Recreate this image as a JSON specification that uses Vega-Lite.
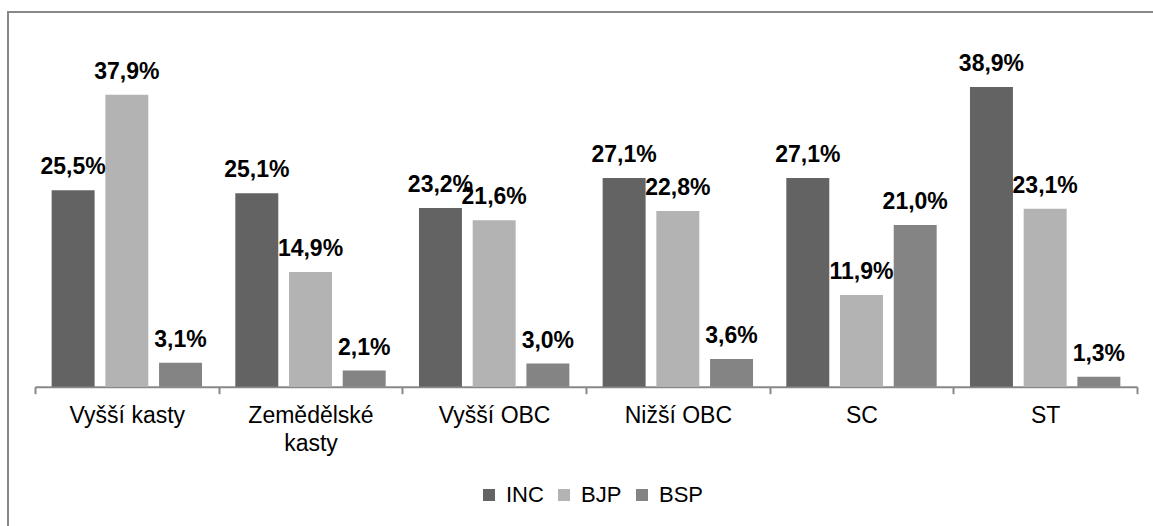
{
  "$schema": "https://vega.github.io/schema/vega-lite/v6.json",
  "width": 1150,
  "height": 520,
  "autosize": {"type": "none"},
  "padding": {"left": 8, "top": 12, "right": 0, "bottom": 0},
  "background": "white",
  "config": {
    "font": "Liberation Sans",
    "view": {"stroke": "#888888", "strokeWidth": 2}
  },
  "data": {
    "values": [
      {"category": "Vyšší kasty", "party": "INC", "value": 25.5},
      {"category": "Vyšší kasty", "party": "BJP", "value": 37.9},
      {"category": "Vyšší kasty", "party": "BSP", "value": 3.1},
      {"category": "Zemědělské kasty", "party": "INC", "value": 25.1},
      {"category": "Zemědělské kasty", "party": "BJP", "value": 14.9},
      {"category": "Zemědělské kasty", "party": "BSP", "value": 2.1},
      {"category": "Vyšší OBC", "party": "INC", "value": 23.2},
      {"category": "Vyšší OBC", "party": "BJP", "value": 21.6},
      {"category": "Vyšší OBC", "party": "BSP", "value": 3.0},
      {"category": "Nižší OBC", "party": "INC", "value": 27.1},
      {"category": "Nižší OBC", "party": "BJP", "value": 22.8},
      {"category": "Nižší OBC", "party": "BSP", "value": 3.6},
      {"category": "SC", "party": "INC", "value": 27.1},
      {"category": "SC", "party": "BJP", "value": 11.9},
      {"category": "SC", "party": "BSP", "value": 21.0},
      {"category": "ST", "party": "INC", "value": 38.9},
      {"category": "ST", "party": "BJP", "value": 23.1},
      {"category": "ST", "party": "BSP", "value": 1.3}
    ]
  },
  "transform": [
    {"calculate": "replace(format(datum.value, '.1f'), '.', ',') + '%'", "as": "label"}
  ],
  "encoding": {
    "x": {
      "field": "category",
      "type": "nominal",
      "sort": null,
      "scale": {"range": [27, 1129], "paddingInner": 0, "paddingOuter": 0},
      "axis": {
        "title": null,
        "orient": "bottom",
        "offset": -145.3,
        "labelAngle": 0,
        "labelFontSize": 23,
        "labelColor": "#000000",
        "labelPadding": 11,
        "labelLimit": 300,
        "labelLineHeight": 28,
        "labelExpr": "datum.value == 'Zemědělské kasty' ? ['Zemědělské', 'kasty'] : datum.label",
        "domainColor": "#888888",
        "domainWidth": 2,
        "tickColor": "#888888",
        "tickWidth": 2,
        "tickSize": 7,
        "tickBand": "extent",
        "grid": false
      }
    },
    "xOffset": {
      "field": "party",
      "type": "nominal",
      "scale": {"domain": ["INC", "BJP", "BSP"], "paddingInner": 0.2, "paddingOuter": 0.31}
    },
    "y": {
      "field": "value",
      "type": "quantitative",
      "scale": {"domain": [0, 45], "range": [374.7, 28], "nice": false, "zero": true},
      "axis": null
    }
  },
  "layer": [
    {
      "mark": {"type": "bar"},
      "encoding": {
        "color": {
          "field": "party",
          "type": "nominal",
          "scale": {"domain": ["INC", "BJP", "BSP"], "range": ["#636363", "#b3b3b3", "#848484"]},
          "legend": {
            "title": null,
            "orient": "none",
            "legendX": 470,
            "legendY": 472,
            "direction": "horizontal",
            "symbolType": "square",
            "symbolSize": 144,
            "symbolStrokeWidth": 0,
            "labelFontSize": 22,
            "labelColor": "#000000",
            "labelOffset": 6,
            "columnPadding": 9
          }
        }
      }
    },
    {
      "mark": {"type": "text", "baseline": "alphabetic", "dy": -16, "fontSize": 23, "fontWeight": "bold", "color": "#000000"},
      "encoding": {"text": {"field": "label"}}
    }
  ]
}
